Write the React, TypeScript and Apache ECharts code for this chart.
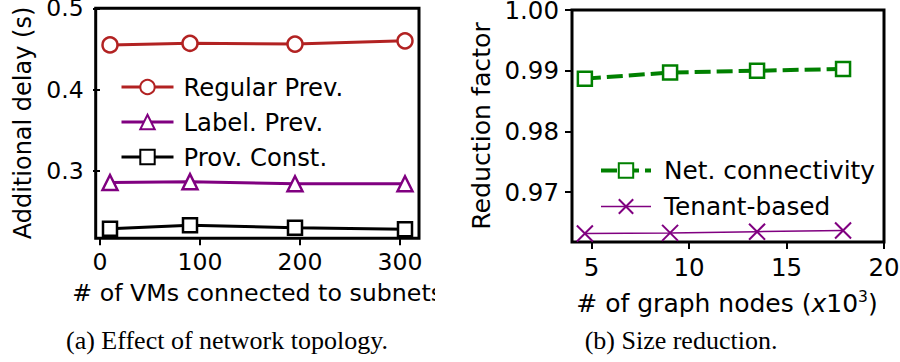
import React, { useEffect, useRef } from "react";
import * as echarts from "echarts";

// ---- Left panel: (a) Effect of network topology ----
const vmCounts = [10, 90, 195, 305];
const regularPrev = [0.455, 0.457, 0.456, 0.46];
const labelPrev = [0.286, 0.287, 0.2845, 0.2845];
const provConst = [0.229, 0.2333, 0.2304, 0.2284];
const leftXTicks = [0, 100, 200, 300];
const leftYTicks = [0.3, 0.4, 0.5];

// ---- Right panel: (b) Size reduction ----
const graphNodes = [4.66, 9.03, 13.49, 17.9];
const netConnectivity = [0.9887, 0.9897, 0.99, 0.9903];
const tenantBased = [0.9632, 0.9633, 0.9635, 0.9637];
const rightXTicks = [5, 10, 15, 20];
const rightYTicks = [0.97, 0.98, 0.99, 1.0];

const RED = "#b22222";
const PURPLE = "#800080";
const BLACK = "#000000";
const GREEN = "#008000";
const SANS = "DejaVu Sans";
const SERIF = "Liberation Serif";

const zip = (xs: number[], ys: number[]) => xs.map((x, i) => [x, ys[i]]);

function axisCommon(ticks: number[], fontSize: number, margin: number, fmt: (v: number) => string, extra: any = {}) {
  return {
    type: "value" as const,
    axisLine: { show: false },
    splitLine: { show: false },
    axisTick: {
      show: true,
      length: 7,
      inside: false,
      customValues: ticks,
      lineStyle: { color: "#000", width: 2 },
    },
    axisLabel: {
      show: true,
      customValues: ticks,
      fontSize,
      fontFamily: SANS,
      color: "#000",
      margin,
      formatter: fmt,
      ...extra,
    },
  };
}

export default function App() {
  const ref = useRef<HTMLDivElement>(null);
  useEffect(() => {
    const chart = echarts.init(ref.current!, null, { renderer: "svg" });
    const option: any = {
      animation: false,
      backgroundColor: "#fff",
      grid: [
        {
          left: 95.7, top: 8.3, width: 323.3, height: 230,
          show: true, borderColor: "#000", borderWidth: 3, backgroundColor: "transparent",
          containLabel: false, outerBoundsMode: "none",
        },
        {
          left: 572, top: 10, width: 312, height: 232,
          show: true, borderColor: "#000", borderWidth: 3, backgroundColor: "transparent",
          containLabel: false, outerBoundsMode: "none",
        },
      ],
      xAxis: [
        { ...axisCommon(leftXTicks, 23.5, 12, (v: number) => String(v)), gridIndex: 0, min: -4.3, max: 319 },
        { ...axisCommon(rightXTicks, 24.5, 13, (v: number) => String(v)), gridIndex: 1, min: 4, max: 20 },
      ],
      yAxis: [
        {
          ...axisCommon(leftYTicks, 23.5, 12, (v: number) => v.toFixed(1), { lineHeight: 17, padding: [2, 0, 0, 0] }),
          gridIndex: 0, min: 0.2174, max: 0.5,
        },
        {
          ...axisCommon(rightYTicks, 24.5, 13, (v: number) => v.toFixed(2), { lineHeight: 18 }),
          gridIndex: 1, min: 0.9618, max: 1.0,
        },
      ],
      legend: [
        {
          orient: "vertical",
          left: 115,
          top: 70,
          itemWidth: 52,
          itemHeight: 18,
          itemGap: 11,
          selectedMode: false,
          textStyle: { fontSize: 24.3, fontFamily: SANS, color: "#000", padding: [0, 0, 0, 5] },
          data: [
            { name: "Regular Prev.", lineStyle: { width: 3 } },
            { name: "Label. Prev.", lineStyle: { width: 3 } },
            { name: "Prov. Const.", lineStyle: { width: 3 } },
          ],
        },
        {
          orient: "vertical",
          left: 594,
          top: 153,
          itemWidth: 50,
          itemHeight: 18,
          itemGap: 11,
          selectedMode: false,
          textStyle: { fontSize: 24.8, fontFamily: SANS, color: "#000", padding: [0, 0, 0, 8] },
          data: [
            { name: "Net. connectivity", lineStyle: { width: 4 } },
            { name: "Tenant-based", lineStyle: { width: 1.5 } },
          ],
        },
      ],
      series: [
        {
          name: "Regular Prev.", type: "line", xAxisIndex: 0, yAxisIndex: 0,
          data: zip(vmCounts, regularPrev),
          symbol: "circle", symbolSize: 15,
          lineStyle: { color: RED, width: 3 },
          itemStyle: { color: "#fff", borderColor: RED, borderWidth: 2.5 },
          emphasis: { disabled: true }, silent: true,
        },
        {
          name: "Label. Prev.", type: "line", xAxisIndex: 0, yAxisIndex: 0,
          data: zip(vmCounts, labelPrev),
          symbol: "triangle", symbolSize: 15,
          lineStyle: { color: PURPLE, width: 3 },
          itemStyle: { color: "#fff", borderColor: PURPLE, borderWidth: 2.5 },
          emphasis: { disabled: true }, silent: true,
        },
        {
          name: "Prov. Const.", type: "line", xAxisIndex: 0, yAxisIndex: 0,
          data: zip(vmCounts, provConst),
          symbol: "rect", symbolSize: 14,
          lineStyle: { color: BLACK, width: 3 },
          itemStyle: { color: "#fff", borderColor: BLACK, borderWidth: 2.5 },
          emphasis: { disabled: true }, silent: true,
        },
        {
          name: "Net. connectivity", type: "line", xAxisIndex: 1, yAxisIndex: 1,
          data: zip(graphNodes, netConnectivity),
          symbol: "rect", symbolSize: 14,
          lineStyle: { color: GREEN, width: 4, type: [16, 6] },
          itemStyle: { color: "#fff", borderColor: GREEN, borderWidth: 2.5 },
          emphasis: { disabled: true }, silent: true,
        },
        {
          name: "Tenant-based", type: "line", xAxisIndex: 1, yAxisIndex: 1,
          data: zip(graphNodes, tenantBased),
          symbol: "path://M0,0L1,1M1,0L0,1", symbolSize: 16,
          lineStyle: { color: PURPLE, width: 1.5 },
          itemStyle: { color: "none", borderColor: PURPLE, borderWidth: 2 },
          emphasis: { disabled: true }, silent: true,
        },
      ],
      graphic: [
        {
          type: "text", x: 23, y: 123, rotation: Math.PI / 2,
          style: { text: "Additional delay (s)", fontSize: 24, fontFamily: SANS, fill: "#000", align: "center", verticalAlign: "middle" },
        },
        {
          type: "text", x: 481, y: 126, rotation: Math.PI / 2,
          style: { text: "Reduction factor", fontSize: 25.2, fontFamily: SANS, fill: "#000", align: "center", verticalAlign: "middle" },
        },
        {
          type: "text", x: 72.3, y: 293, z: 1,
          style: { text: "# of VMs connected to subnets", fontSize: 23.7, fontFamily: SANS, fill: "#000", align: "left", verticalAlign: "middle" },
        },
        {
          type: "rect", z: 50, shape: { x: 435, y: 276, width: 40, height: 34 },
          style: { fill: "#fff" },
        },
        {
          type: "text", x: 727, y: 303,
          style: {
            text: "# of graph nodes ({it|x}10{sup|3})",
            fontSize: 25, fontFamily: SANS, fill: "#000", align: "center", verticalAlign: "middle",
            lineHeight: 28,
            rich: {
              it: { fontSize: 25, fontFamily: SANS, fontStyle: "italic", fill: "#000", lineHeight: 28 },
              sup: { fontSize: 15.5, fontFamily: SANS, fill: "#000", verticalAlign: "top", lineHeight: 16 },
            },
          },
        },
        {
          type: "text", x: 227, y: 340,
          style: { text: "(a) Effect of network topology.", fontSize: 26, fontFamily: SERIF, fill: "#000", align: "center", verticalAlign: "middle" },
        },
        {
          type: "text", x: 681, y: 340,
          style: { text: "(b) Size reduction.", fontSize: 26, fontFamily: SERIF, fill: "#000", align: "center", verticalAlign: "middle" },
        },
      ],
    };
    chart.setOption(option);
    return () => chart.dispose();
  }, []);
  return (
    <div
      ref={ref}
      style={{ position: "absolute", left: 0, top: 0, width: 900, height: 362, background: "#fff" }}
    />
  );
}
